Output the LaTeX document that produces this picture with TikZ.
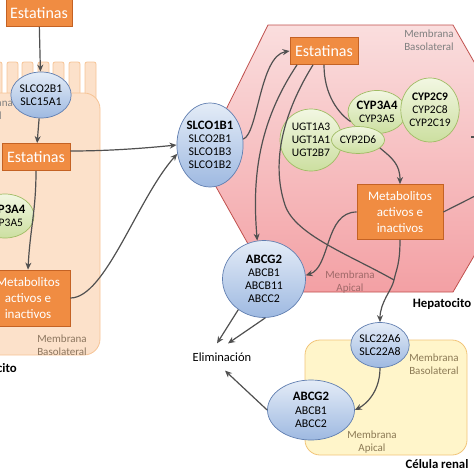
\documentclass[tikz,border=0pt]{standalone}
\usepackage{fontspec}
\setmainfont{Carlito}
\usetikzlibrary{shapes.geometric,arrows.meta}

\definecolor{naranja}{RGB}{240,140,66}
\definecolor{naranjaosc}{RGB}{196,98,36}
\definecolor{azulcl}{RGB}{228,236,247}
\definecolor{azul}{RGB}{158,185,225}
\definecolor{azulosc}{RGB}{96,126,176}
\definecolor{verdecl}{RGB}{242,247,226}
\definecolor{verde}{RGB}{204,223,160}
\definecolor{verdeosc}{RGB}{160,188,100}
\definecolor{rosacl}{RGB}{250,222,222}
\definecolor{rosa}{RGB}{243,160,164}
\definecolor{rojo}{RGB}{192,80,77}
\definecolor{melon}{RGB}{252,225,202}
\definecolor{ocre}{RGB}{246,196,150}
\definecolor{crema}{RGB}{255,245,202}
\definecolor{amarillo}{RGB}{241,196,120}
\definecolor{flechagris}{RGB}{80,80,80}
\definecolor{txtcafe}{RGB}{140,118,95}
\definecolor{txtgris}{RGB}{128,128,128}
\definecolor{txtrosa}{RGB}{160,105,105}
\definecolor{txtocre}{RGB}{140,122,85}

\newcommand{\negrita}[1]{{\fontsize{12.8}{13.5}\selectfont\bfseries #1}}

\tikzset{
  caja/.style={draw=naranjaosc, fill=naranja, text=white, line width=0.8pt, inner sep=1pt, align=center},
  estat/.style={caja, font=\fontsize{16}{17}\selectfont, minimum height=27pt},
  metab/.style={caja, font=\fontsize{13}{16}\selectfont, minimum width=86pt, minimum height=55pt},
  transp/.style={ellipse, draw=azulosc, top color=azulcl, bottom color=azul, line width=0.7pt, inner sep=0pt, align=center, font=\fontsize{11.8}{13.2}\selectfont},
  enzima/.style={ellipse, draw=verdeosc, top color=verdecl, bottom color=verde, line width=0.7pt, inner sep=0pt, align=center, font=\fontsize{11.5}{13}\selectfont},
  memb/.style={align=center, inner sep=0pt, font=\fontsize{11}{13}\selectfont},
  celula/.style={inner sep=0pt, font=\fontsize{12.8}{14}\selectfont\bfseries},
  flecha/.style={draw=flechagris, line width=1.2pt, -{Stealth[length=7pt,width=6pt]}},
  linea/.style={draw=flechagris, line width=1.2pt},
}

\begin{document}
\begin{tikzpicture}[x=1pt,y=-1pt]
\useasboundingbox (0,0) rectangle (474,474);

% enterocito
\foreach \x in {-9,7,22,38,53,69,85}
  \draw[draw=ocre, fill=melon, line width=0.8pt, rounded corners=2pt] (\x,110) rectangle ++(11,-48);
\draw[draw=ocre, fill=melon, line width=0.8pt, rounded corners=16pt] (-20,93) rectangle (100,355);

% hepatocito
\draw[draw=rojo, top color=rosacl, bottom color=rosa, line width=0.8pt]
  (268,25) -- (453,25) -- (530,160) -- (453,292) -- (275,292) -- (201,160) -- cycle;

% celula renal
\draw[draw=amarillo, fill=crema, line width=0.8pt, rounded corners=15pt] (305,340) rectangle (467,455);

% textos de membrana
\node[memb, text=txtgris, anchor=east] (ma1) at (13,110) {Membrana\\Apical};
\node[memb, text=txtcafe] (mb1) at (62,345) {Membrana\\Basolateral};
\node[celula, anchor=east] (ent) at (17,368) {Enterocito};
\node[memb, text=txtgris] (mb2) at (429,40) {Membrana\\Basolateral};
\node[memb, text=txtrosa] (ma2) at (350,282) {Membrana\\Apical};
\node[celula] (hep) at (442,304) {Hepatocito};
\node[memb, text=txtocre] (mb3) at (434,364) {Membrana\\Basolateral};
\node[memb, text=txtocre] (ma3) at (372,442) {Membrana\\Apical};
\node[celula] (ren) at (437,464) {Célula renal};

% enterocito: nodos
\node[estat, minimum width=66pt] (est1) at (39,13) {Estatinas};
\node[transp, minimum width=58pt, minimum height=46pt] (slc2) at (41,95) {SLCO2B1\\SLC15A1};
\node[estat, minimum width=68pt] (est2) at (36,157) {Estatinas};
\node[enzima, minimum width=56pt, minimum height=44pt] (cypa) at (5,216) {\negrita{CYP3A4}\\CYP3A5};
\node[metab, minimum width=84pt, minimum height=56pt] (met1) at (28,298) {Metabolitos\\activos e\\inactivos};

% hepatocito: nodos
\node[transp, minimum width=60pt, minimum height=84pt] (slco1) at (210,145) {\negrita{SLCO1B1}\\SLCO2B1\\SLCO1B3\\SLCO1B2};
\node[estat, minimum width=68pt] (est3) at (324,51) {Estatinas};
\node[enzima, minimum width=62pt, minimum height=62pt] (ugt) at (311,140) {UGT1A3\\UGT1A1\\UGT2B7};
\node[enzima, minimum width=58pt, minimum height=43pt] (cyp3a) at (377,112) {\negrita{CYP3A4}\\CYP3A5};
\node[enzima, minimum width=55pt, minimum height=64pt] (cyp2c) at (430,110) {\textbf{CYP2C9}\\CYP2C8\\CYP2C19};
\node[enzima, minimum width=53pt, minimum height=27pt] (cyp2d) at (358,140) {CYP2D6};
\node[metab] (met2) at (400,212) {Metabolitos\\activos e\\inactivos};
\node[transp, minimum width=83pt, minimum height=77pt] (abcg1) at (264,279) {\negrita{ABCG2}\\ABCB1\\ABCB11\\ABCC2};
\node[font=\fontsize{12.5}{14}\selectfont, inner xsep=2pt, inner ysep=9pt] (elim) at (222,357) {Eliminación};

% renal: nodos
\node[transp, minimum width=55pt, minimum height=45pt] (slc22) at (380,345) {SLC22A6\\SLC22A8};
\node[transp, minimum width=87pt, minimum height=60pt] (abcg3) at (311,410) {\negrita{ABCG2}\\ABCB1\\ABCC2};

\coordinate (j) at (394,280);
\coordinate (sal1) at (477,195);
\coordinate (sal2a) at (471,137);
\coordinate (sal2b) at (477,137);

% conexiones
\draw[flecha] (est1) -- (slc2);
\draw[flecha] (slc2) -- (est2);
\draw[flecha] (est2.south) .. controls +(0,40) and +(2,-40) .. (met1.north);
\draw[flecha] ([yshift=6pt]est2.east) .. controls +(40,0) and +(-30,3) .. (slco1.west);
\draw[flecha] (met1.east) .. controls +(35,0) and +(-40,45) .. (slco1.195);
\draw[flecha] (slco1.10) .. controls +(15,-5) and +(-30,5) .. (est3.west);
\draw[flecha] ([xshift=-27pt]est3.south) .. controls +(-40,60) and +(-5,-60) .. (abcg1.100);
\draw[linea] ([xshift=-11pt]est3.south) .. controls (285,110) and (270,160) .. (285,205)
  .. controls (295,235) and (350,255) .. (j);
\draw[linea] (est3.south) .. controls +(0,30) and +(-12,-8) .. (cyp3a.200);
\draw[flecha] (cyp2d.-20) .. controls +(12,10) and +(0,-20) .. (met2.north);
\draw[flecha] (met2.west) .. controls +(-32,0) and +(25,-8) .. (abcg1.5);
\draw[flecha] (met2.south) .. controls +(0,25) and +(2,-10) .. (j) .. controls +(-2,10) and +(0,-20) .. (slc22.north);
\draw[linea] (met2.east) -- (sal1);
\draw[linea] (sal2a) -- (sal2b);
\draw[flecha] (abcg1.230) -- ([xshift=-5pt]elim.north);
\draw[flecha] (abcg1.272) -- ([xshift=6pt]elim.north);
\draw[flecha] (abcg3.west) -- ([xshift=3pt]elim.south);
\draw[flecha] (slc22.south) .. controls +(0,25) and +(10,-5) .. (abcg3.east);
\end{tikzpicture}
\end{document}
